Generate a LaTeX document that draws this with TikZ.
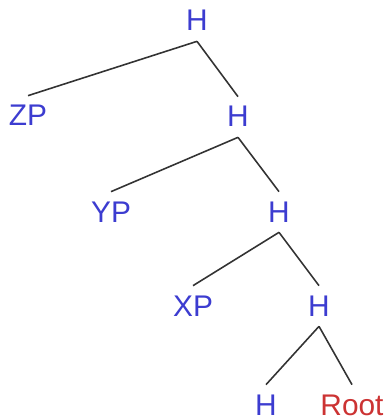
\documentclass[tikz,border=0pt]{standalone}
\usepackage{fontspec}
\setmainfont{Liberation Sans}
\usetikzlibrary{positioning}
\definecolor{labelblue}{HTML}{3C3CD0}
\definecolor{rootred}{HTML}{CC3333}
\tikzset{lbl/.style={text=labelblue,font=\fontsize{17}{19}\selectfont,inner sep=0.2cm,text height=0.4cm,text depth=0pt},branch/.style={draw=black!80,line width=0.9pt}}

\begin{document}
\begin{tikzpicture}[x=0.02cm,y=-0.02cm]
\useasboundingbox (0,0) rectangle (388,419);
\node[lbl] (h1) at (197,21){H};
\node[lbl] (zp) at (28,116){ZP};
\node[lbl] (h2) at (238,117){H};
\node[lbl] (yp) at (111,212){YP};
\node[lbl] (h3) at (279,212){H};
\node[lbl] (xp) at (193,306){XP};
\node[lbl] (h4) at (319,306){H};
\node[lbl] (h5) at (266,405){H};
\node[lbl,text=rootred] (root) at (352,405){Root};
\draw[branch] (h1.south)--(zp.north);
\draw[branch] (h1.south)--(h2.north);
\draw[branch] (h2.south)--(yp.north);
\draw[branch] (h2.south)--(h3.north);
\draw[branch] (h3.south)--(xp.north);
\draw[branch] (h3.south)--(h4.north);
\draw[branch] (h4.south)--(h5.north);
\draw[branch] (h4.south)--(root.north);
\end{tikzpicture}
\end{document}
